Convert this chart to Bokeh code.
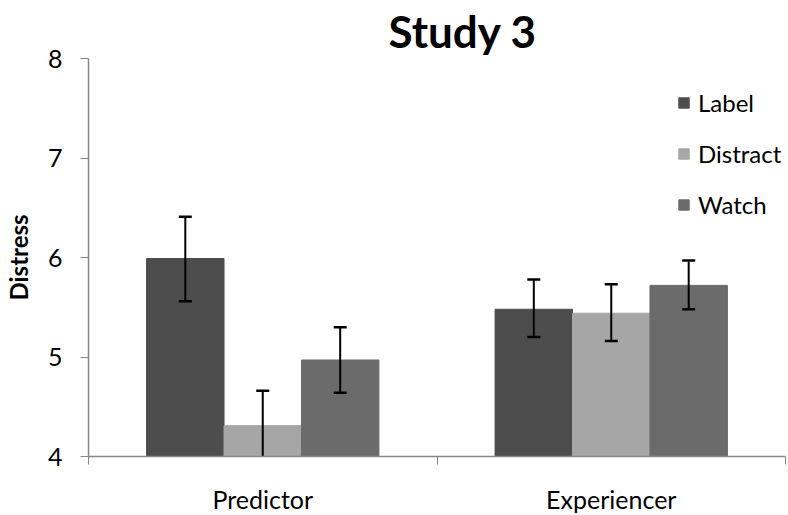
from bokeh.plotting import figure
from bokeh.models import (ColumnDataSource, FixedTicker, Legend, LegendItem, Range1d)
from bokeh.embed import file_html
from bokeh.resources import INLINE

title = "Study 3"
y_label = "Distress"
categories = ["Predictor", "Experiencer"]
series = ["Label", "Distract", "Watch"]
means = {
    "Label": [5.99, 5.48],
    "Distract": [4.31, 5.44],
    "Watch": [4.97, 5.72],
}
upper = {
    "Label": [6.41, 5.78],
    "Distract": [4.66, 5.73],
    "Watch": [5.30, 5.97],
}
lower = {
    "Label": [5.56, 5.20],
    "Distract": [3.96, 5.16],
    "Watch": [4.64, 5.48],
}
colors = {"Label": "#4d4d4d", "Distract": "#a6a6a6", "Watch": "#6b6b6b"}
y_ticks = [4, 5, 6, 7, 8]

FONT = "Lato"
bar_w = 2.0 / 9.0

p = figure(frame_width=697, frame_height=398, output_backend="svg", toolbar_location=None,
           x_range=Range1d(0, len(categories)), y_range=Range1d(4, 8),
           min_border_left=88, min_border_right=3, min_border_top=58, min_border_bottom=57)
p.title.text = title
p.title.text_font = FONT
p.title.text_font_size = "44px"
p.title.text_font_style = "bold"
p.title.text_color = "black"
p.title.align = "left"
p.title.offset = 300
p.title.vertical_align = "top"
p.title.standoff = 0
p.outline_line_color = None
p.grid.visible = False
p.background_fill_color = "white"

items = []
for k, s in enumerate(series):
    xs = [i + 0.5 + (k - 1) * bar_w for i in range(len(categories))]
    src = ColumnDataSource(dict(x=xs, top=means[s]))
    r = p.vbar(x="x", top="top", bottom=4, width=bar_w, source=src,
               fill_color=colors[s], line_color=colors[s], line_width=1)
    items.append(LegendItem(label=s, renderers=[r]))

for k, s in enumerate(series):
    xs = [i + 0.5 + (k - 1) * bar_w for i in range(len(categories))]
    src = ColumnDataSource(dict(x=xs, up=upper[s], lo=lower[s]))
    p.segment(x0="x", x1="x", y0="lo", y1="up", source=src, line_color="black", line_width=2)
    p.scatter(x="x", y="up", marker="dash", size=13, source=src, line_color="black", line_width=2.5)
    p.scatter(x="x", y="lo", marker="dash", size=13, source=src, line_color="black", line_width=2.5)

legend = Legend(items=items, location=(589, 237), orientation="vertical",
                glyph_width=13, glyph_height=13, label_height=24, spacing=22,
                label_standoff=8, padding=0, margin=0,
                label_text_font=FONT, label_text_font_size="24px", label_text_color="black",
                border_line_color=None, background_fill_alpha=0)
p.add_layout(legend, "center")

# x axis
p.xaxis.ticker = FixedTicker(ticks=[i + 0.5 for i in range(len(categories))],
                             minor_ticks=list(range(len(categories) + 1)))
p.xaxis.major_label_overrides = {i + 0.5: c for i, c in enumerate(categories)}
p.xaxis.major_tick_out = 0
p.xaxis.major_tick_in = 0
p.xaxis.minor_tick_out = 8
p.xaxis.minor_tick_in = 0
p.xaxis.minor_tick_line_color = "#868686"
p.xaxis.axis_line_color = "#868686"
p.xaxis.axis_line_width = 1.5
p.xaxis.major_label_text_font = FONT
p.xaxis.major_label_text_font_size = "25px"
p.xaxis.major_label_text_color = "black"
p.xaxis.major_label_standoff = 19

# y axis
p.yaxis.ticker = FixedTicker(ticks=y_ticks)
p.yaxis.minor_tick_line_color = None
p.yaxis.major_tick_out = 8
p.yaxis.major_tick_in = 0
p.yaxis.major_tick_line_color = "#868686"
p.yaxis.axis_line_color = "#868686"
p.yaxis.axis_line_width = 1.5
p.yaxis.major_label_text_font = FONT
p.yaxis.major_label_text_font_size = "25px"
p.yaxis.major_label_text_color = "black"
p.yaxis.major_label_standoff = 18
p.yaxis.axis_label = y_label
p.yaxis.axis_label_text_font = FONT
p.yaxis.axis_label_text_font_size = "24px"
p.yaxis.axis_label_text_font_style = "bold"
p.yaxis.axis_label_text_color = "black"
p.yaxis.axis_label_standoff = 12

open("out.html", "w").write(file_html(p, INLINE))
